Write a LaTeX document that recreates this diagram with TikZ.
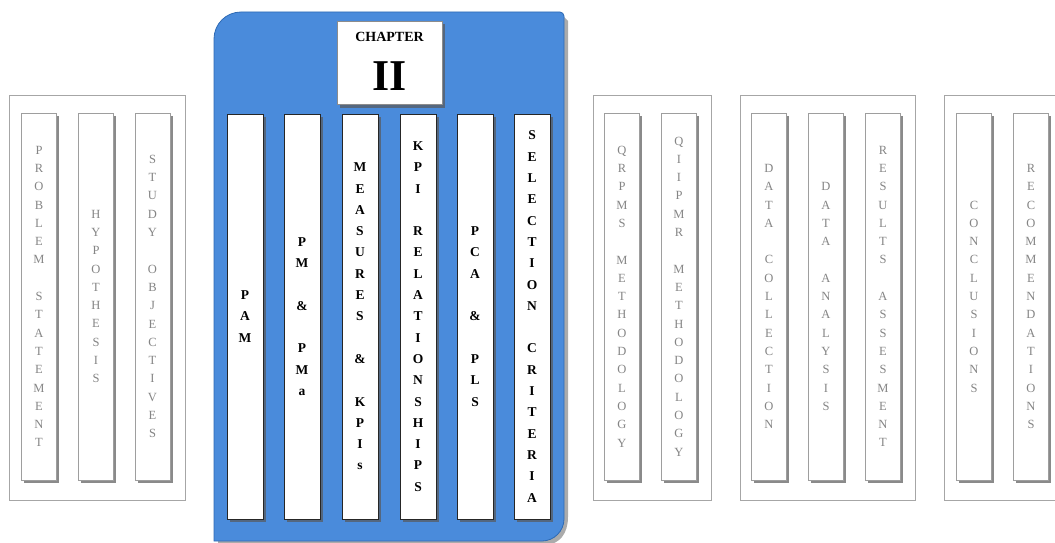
\documentclass[tikz,border=0pt]{standalone}
\usepackage{fontspec}
\setmainfont{Liberation Serif}
\usetikzlibrary{shadows}
\definecolor{chapblue}{HTML}{4A8BDB}
\definecolor{chapedge}{HTML}{2E6AB4}
\definecolor{lettergray}{HTML}{858585}
\tikzset{
  colshadow/.style={drop shadow={shadow xshift=2.5pt, shadow yshift=-3pt, fill=black!65, opacity=0.7}},
  graycol/.style={draw=black!38, line width=0.5pt, fill=white, minimum width=35pt, minimum height=367pt,
    inner sep=0pt, align=center, text=lettergray, font=\fontsize{12.5}{18.3}\selectfont, colshadow},
  bluecol/.style={draw=black!85, line width=0.6pt, fill=white, minimum width=36pt, minimum height=405pt,
    inner sep=0pt, align=center, text=black, font=\bfseries\fontsize{13.5}{21.3}\selectfont, colshadow},
  groupframe/.style={draw=black!35, line width=0.6pt},
  chapbox/.style={draw=black!45, line width=0.6pt, fill=white, minimum width=105pt, minimum height=83pt,
    inner sep=0pt, colshadow},
  chaptext/.style={inner sep=0pt, font=\bfseries\fontsize{14}{16}\selectfont},
  chapnum/.style={inner sep=0pt, font=\bfseries\fontsize{44}{44}\selectfont}
}
\begin{document}
\begin{tikzpicture}[x=1pt,y=-1pt]
\useasboundingbox (0,0) rectangle (1055,543);
\clip (0,0) rectangle (1055,543);

% group frames
\draw[groupframe] (9,95) rectangle (185,500);
\draw[groupframe] (593,95) rectangle (711,500);
\draw[groupframe] (740,95) rectangle (915,500);
\draw[groupframe] (944,95) rectangle (1070,500);

% chapter panel
\fill[black!55, opacity=0.6] (218,545) -- (218,43) .. controls (218,28) and (230,16) .. (245,16)
  -- (563,16) -- (568,21) -- (568,517) .. controls (568,533) and (560,545) .. (544,545) -- cycle;
\draw[chapedge, fill=chapblue, line width=0.8pt] (214,541) -- (214,39) .. controls (214,24) and (226,12) .. (241,12)
  -- (560,12) .. controls (562,12) and (564,14) .. (564,16)
  -- (564,519) .. controls (564,531) and (554,541) .. (542,541) -- cycle;

\node[chapbox] (chap) at (389.5,63) {};
\node[chaptext] (chapword) at (389.5,37) {CHAPTER};
\node[chapnum] (chapno) at (389.5,76) {II};

% blue columns
\node[bluecol] (pam) at (245,316.5) {P\\A\\M};
\node[bluecol] (pm) at (302,316.5) {P\\M\\~\\\&\\~\\P\\M\\a};
\node[bluecol] (meas) at (360,316.5) {M\\E\\A\\S\\U\\R\\E\\S\\~\\\&\\~\\K\\P\\I\\s};
\node[bluecol] (kpi) at (418,316.5) {K\\P\\I\\~\\R\\E\\L\\A\\T\\I\\O\\N\\S\\H\\I\\P\\S};
\node[bluecol] (pca) at (475,316.5) {P\\C\\A\\~\\\&\\~\\P\\L\\S};
\node[bluecol] (sel) at (532,316.5) {S\\E\\L\\E\\C\\T\\I\\O\\N\\~\\C\\R\\I\\T\\E\\R\\I\\A};

% gray columns, group 1
\node[graycol] (prob) at (39,296.5) {P\\R\\O\\B\\L\\E\\M\\~\\S\\T\\A\\T\\E\\M\\E\\N\\T};
\node[graycol] (hyp) at (96,296.5) {H\\Y\\P\\O\\T\\H\\E\\S\\I\\S};
\node[graycol] (obj) at (152.5,296.5) {S\\T\\U\\D\\Y\\~\\O\\B\\J\\E\\C\\T\\I\\V\\E\\S};

% group 2
\node[graycol] (qrpms) at (622,296.5) {Q\\R\\P\\M\\S\\~\\M\\E\\T\\H\\O\\D\\O\\L\\O\\G\\Y};
\node[graycol] (qiipmr) at (679,296.5) {Q\\I\\I\\P\\M\\R\\~\\M\\E\\T\\H\\O\\D\\O\\L\\O\\G\\Y};

% group 3
\node[graycol] (dcol) at (769,296.5) {D\\A\\T\\A\\~\\C\\O\\L\\L\\E\\C\\T\\I\\O\\N};
\node[graycol] (dana) at (826,296.5) {D\\A\\T\\A\\~\\A\\N\\A\\L\\Y\\S\\I\\S};
\node[graycol] (res) at (883,296.5) {R\\E\\S\\U\\L\\T\\S\\~\\A\\S\\S\\E\\S\\M\\E\\N\\T};

% group 4
\node[graycol] (conc) at (974,296.5) {C\\O\\N\\C\\L\\U\\S\\I\\O\\N\\S};
\node[graycol] (rec) at (1031,296.5) {R\\E\\C\\O\\M\\M\\E\\N\\D\\A\\T\\I\\O\\N\\S};
\end{tikzpicture}
\end{document}
